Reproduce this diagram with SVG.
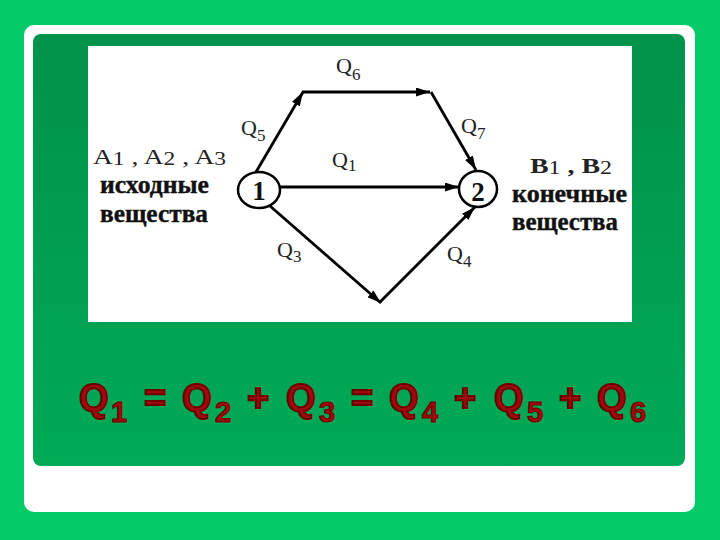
<svg xmlns="http://www.w3.org/2000/svg" width="720" height="540" viewBox="0 0 720 540">
<defs>
<linearGradient id="inner" x1="0" y1="0" x2="0" y2="1">
<stop offset="0" stop-color="#00924a"/>
<stop offset="1" stop-color="#00aa57"/>
</linearGradient>
<marker id="arr" viewBox="0 0 14 9" refX="14" refY="4.5" markerWidth="14" markerHeight="9" markerUnits="userSpaceOnUse" orient="auto">
<path d="M0,0 L14,4.5 L0,9 z" fill="#000"/>
</marker>
<style>
.lbl{font-family:"Liberation Serif","DejaVu Serif",serif;fill:#222}
.q{font-size:22px}
.sub{font-size:17px}
.word{font-family:"Liberation Serif","DejaVu Serif",serif;font-size:25px;font-weight:bold;fill:#111;stroke:#111;stroke-width:0.4}
.edge{fill:none;stroke:#000;stroke-width:2.8;marker-end:url(#arr)}
.node{fill:#fff;stroke:#000;stroke-width:2.5}
.num{font-family:"Liberation Serif","DejaVu Serif",serif;font-size:27px;font-weight:bold;fill:#111}
.eq{font-family:"Liberation Sans","Arial",sans-serif;font-weight:bold;fill:#9e0a0f;stroke:#6e0000;stroke-width:1.8;font-size:38px}
.eqs{font-family:"Liberation Sans","Arial",sans-serif;font-weight:bold;fill:#9e0a0f;stroke:#6e0000;stroke-width:1.1;font-size:29px}
</style>
</defs>
<rect width="720" height="540" fill="#03cc66"/>
<rect x="24" y="25" width="671" height="487" rx="10" fill="#ffffff"/>
<rect x="33" y="34" width="652" height="432" rx="8" fill="url(#inner)"/>
<rect x="88" y="46" width="544" height="276" fill="#ffffff"/>

<g id="connectors">
<path class="edge" d="M256,172 L303,92"/>
<path class="edge" d="M302,92 L430,92"/>
<path class="edge" d="M431,92 L476,170"/>
<path class="edge" d="M280,187 L459,187"/>
<path class="edge" d="M270,206 L381,303"/>
<path class="edge" d="M380,302 L475,207"/>
</g>

<g id="node1">
<ellipse class="node" cx="259" cy="190" rx="21" ry="18"/>
<text class="num" x="259" y="200" text-anchor="middle">1</text>
</g>
<g id="node2">
<ellipse class="node" cx="478" cy="189" rx="19" ry="18"/>
<text class="num" x="478" y="201" text-anchor="middle">2</text>
</g>

<g id="labels">
<text class="lbl q" x="336" y="73">Q<tspan class="sub" dy="7">6</tspan></text>
<text class="lbl q" x="241" y="135">Q<tspan class="sub" dy="6">5</tspan></text>
<text class="lbl q" x="461" y="133">Q<tspan class="sub" dy="6">7</tspan></text>
<text class="lbl q" x="332" y="167">Q<tspan class="sub" dy="4">1</tspan></text>
<text class="lbl q" x="277" y="257">Q<tspan class="sub" dy="5">3</tspan></text>
<text class="lbl q" x="447" y="261">Q<tspan class="sub" dy="6">4</tspan></text>
</g>

<g id="source">
<text class="lbl" x="93" y="164" font-size="21" textLength="133" lengthAdjust="spacingAndGlyphs">A<tspan font-size="18" dy="1">1</tspan><tspan dy="-1"> , A</tspan><tspan font-size="18" dy="1">2</tspan><tspan dy="-1"> , A</tspan><tspan font-size="18" dy="1">3</tspan></text>
<text class="word" x="100" y="193" textLength="109" lengthAdjust="spacingAndGlyphs">исходные</text>
<text class="word" x="100" y="222" textLength="108" lengthAdjust="spacingAndGlyphs">вещества</text>
</g>
<g id="product">
<text class="lbl" x="530" y="173" font-size="21" font-weight="bold" textLength="82" lengthAdjust="spacingAndGlyphs">B<tspan font-size="18" font-weight="normal" dy="1">1</tspan><tspan dy="-1"> , B</tspan><tspan font-size="18" font-weight="normal" dy="1">2</tspan></text>
<text class="word" x="512" y="202" textLength="115" lengthAdjust="spacingAndGlyphs">конечные</text>
<text class="word" x="512" y="230" textLength="106" lengthAdjust="spacingAndGlyphs">вещества</text>
</g>

<g id="equation">
<text class="eq" x="79" y="411">Q</text><text class="eqs" x="111" y="422">1</text>
<text class="eq" x="144" y="411">=</text>
<text class="eq" x="182" y="411">Q</text><text class="eqs" x="215" y="422">2</text>
<text class="eq" x="247" y="411">+</text>
<text class="eq" x="286" y="411">Q</text><text class="eqs" x="319" y="422">3</text>
<text class="eq" x="351" y="411">=</text>
<text class="eq" x="389" y="411">Q</text><text class="eqs" x="422" y="422">4</text>
<text class="eq" x="454" y="411">+</text>
<text class="eq" x="494" y="411">Q</text><text class="eqs" x="527" y="422">5</text>
<text class="eq" x="559" y="411">+</text>
<text class="eq" x="597" y="411">Q</text><text class="eqs" x="630" y="422">6</text>
</g>
</svg>
